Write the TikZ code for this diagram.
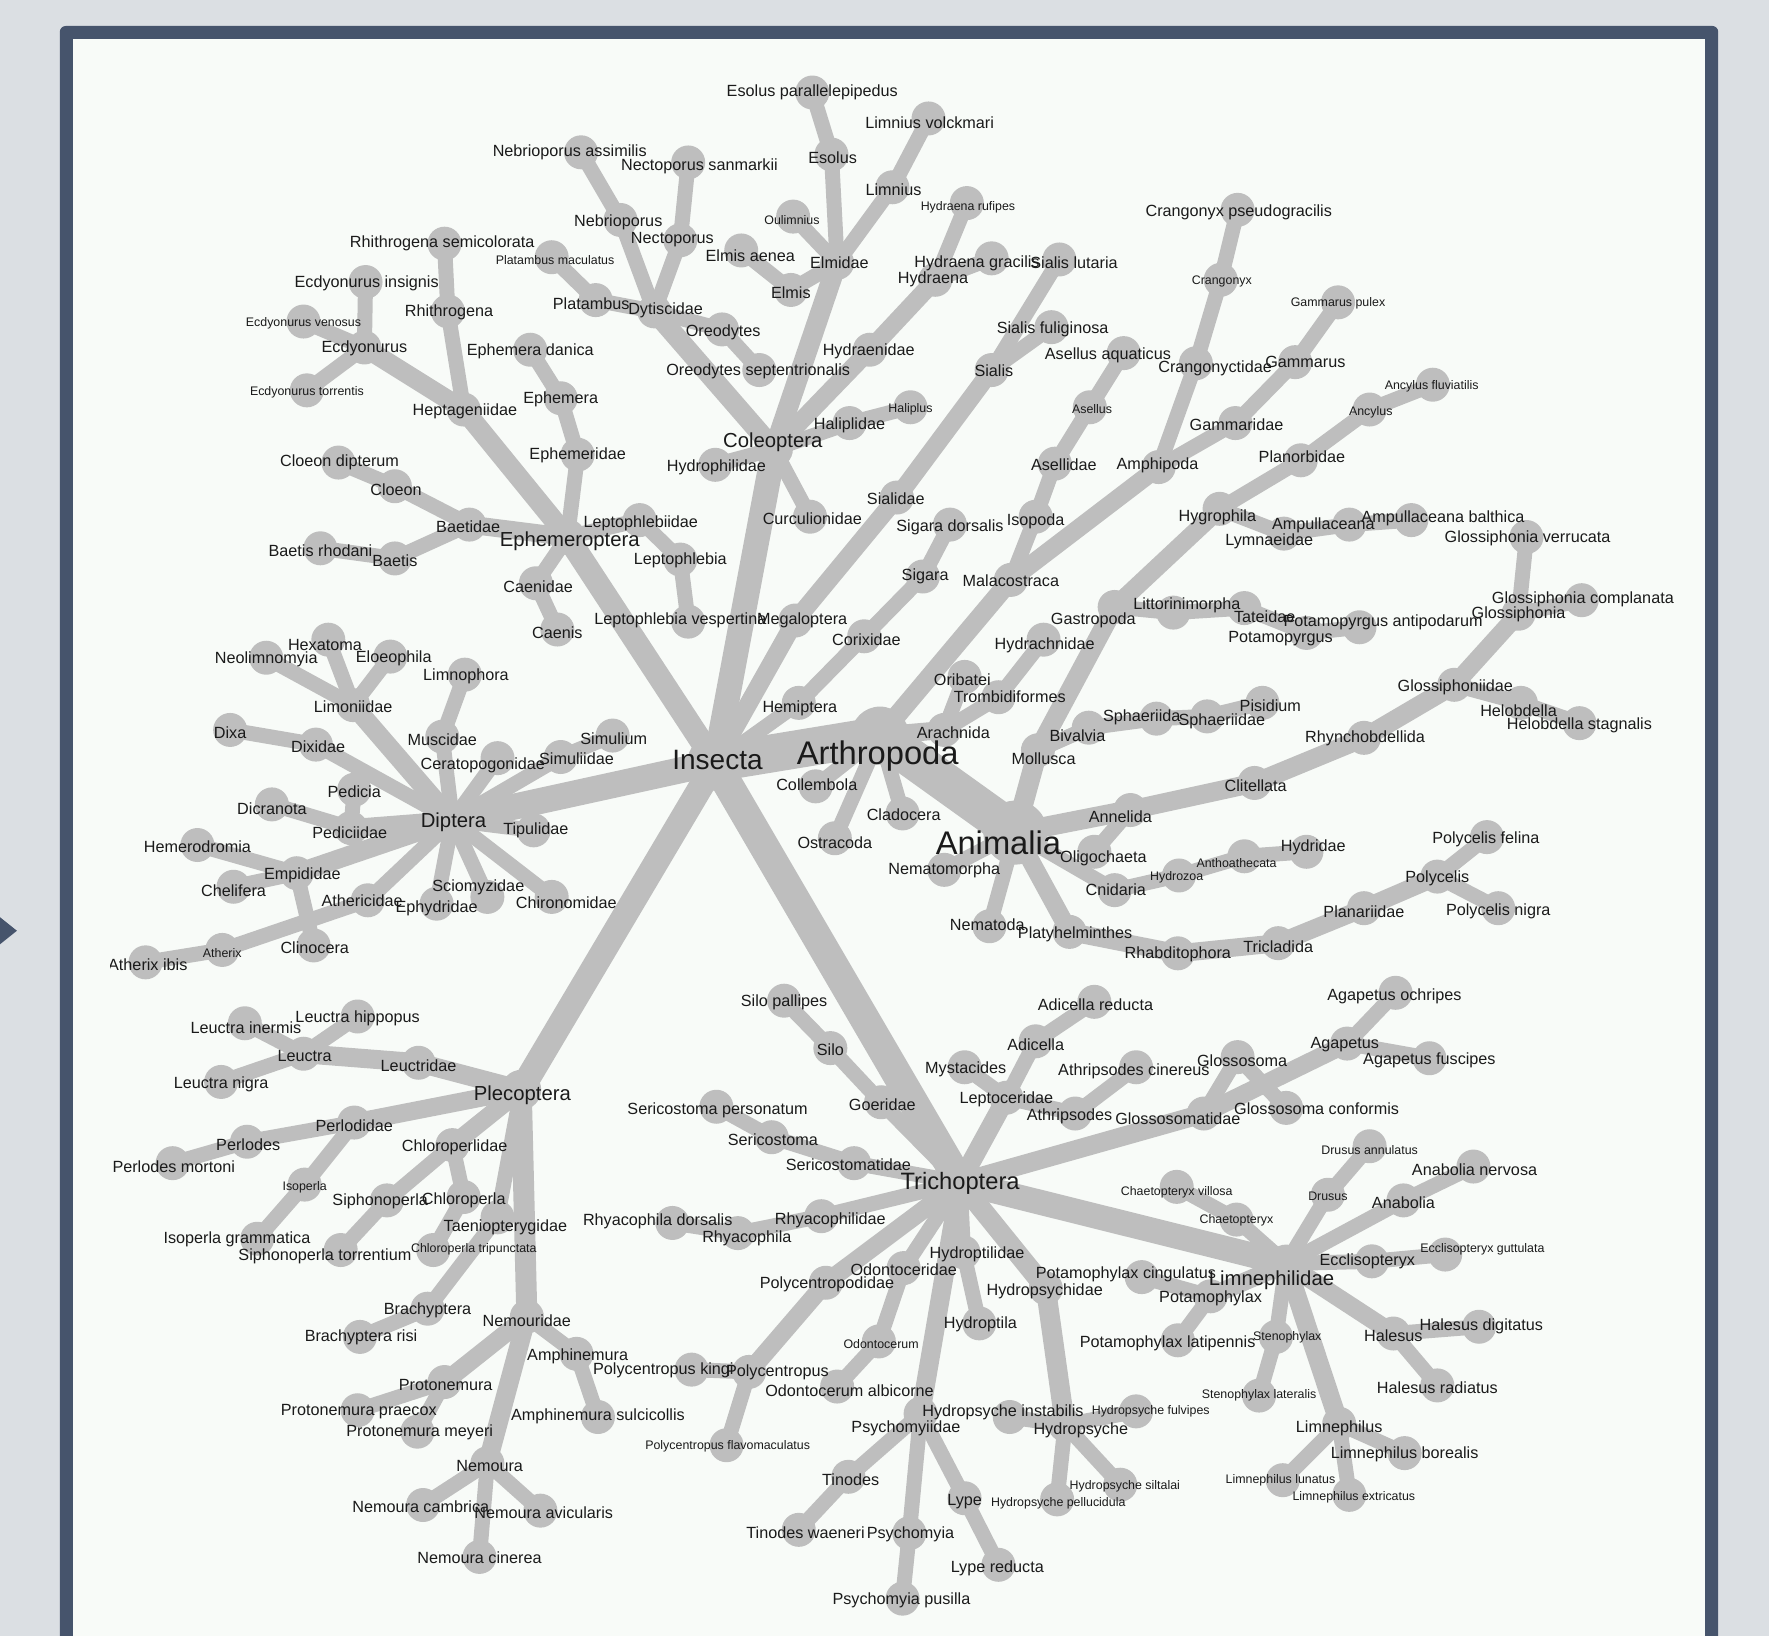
\documentclass[tikz,border=0pt]{standalone}
\usepackage{fontspec}
\setmainfont{Liberation Sans}
\definecolor{tg}{HTML}{BEBEBE}
\definecolor{txt}{HTML}{1A1A1A}
\definecolor{frm}{HTML}{46546C}
\definecolor{obg}{HTML}{DBDFE3}
\definecolor{pnl}{HTML}{F8FBF8}
\def\tyN{\fontsize{16.2}{18}\selectfont}
\def\tyS{\fontsize{12.4}{14}\selectfont}
\def\tyO{\fontsize{20.3}{22}\selectfont}
\def\tyT{\fontsize{23.7}{26}\selectfont}
\def\tyI{\fontsize{28}{30}\selectfont}
\def\tyA{\fontsize{32.7}{35}\selectfont}
\def\Nd#1#2#3{\node[dot] (#1) at (#2,#3) {};}
\def\Nb#1#2#3#4{\node[dot,minimum size=#4pt] (#1) at (#2,#3) {};}
\def\Ed#1#2#3{\draw[edge,line width=#3pt] (#1.center) -- (#2.center);}
\def\Lb#1#2#3#4#5{\node[lab,font=#1] (t#2) at (#3,#4) {#5};}
\tikzset{
  dot/.style={circle,fill=tg,draw=none,inner sep=0pt,minimum size=34pt},
  edge/.style={draw=tg},
  lab/.style={inner sep=0pt,text=txt,yshift=-2pt}
}
\begin{document}
\begin{tikzpicture}[x=1.1282pt,y=-1.1282pt]
\useasboundingbox (0,0) rectangle (1568,1450);
\clip (0,0) rectangle (1568,1450);
\fill[obg] (0,0) rectangle (1568,1450);
\fill[frm,rounded corners=6pt] (53,23) rectangle (1523,1500);
\fill[pnl] (65,35) rectangle (1511,1500);
\fill[frm] (0,813) -- (15,825) -- (0,837) -- cycle;
\begin{scope}
\clip (98,35) rectangle (1511,1450);
% ---------- dots ----------
\Nb{ani}{900}{738}{64}
\Nb{art}{780}{652}{58}
\Nb{ins}{634}{676}{56}
\Nd{coll}{723}{697}
\Nd{cla}{800}{721}
\Nd{ost}{740}{743}
\Nd{mal}{896}{514}
\Nd{iso}{918}{458}
\Nd{ase}{935}{411}
\Nd{asl}{966}{361}
\Nd{asla}{996}{313}
\Nd{amp}{1027}{414}
\Nd{cra}{1060}{322}
\Nd{crx}{1082}{248}
\Nd{crxp}{1097}{186}
\Nd{gam}{1095}{375}
\Nd{gms}{1148}{321}
\Nd{gmsp}{1186}{268}
\Nd{ara}{837}{647}
\Nd{ori}{855}{600}
\Nd{tro}{885}{618}
\Nd{hyc}{925}{567}
\Nd{mol}{920}{665}
\Nd{gas}{988}{538}
\Nd{hyg}{1081}{451}
\Nd{pla}{1153}{408}
\Nd{anc}{1214}{363}
\Nd{ancf}{1270}{341}
\Nd{lym}{1138}{473}
\Nd{amu}{1196}{465}
\Nd{amub}{1251}{461}
\Nd{lit}{1040}{543}
\Nd{tat}{1103}{539}
\Nd{pot}{1158}{561}
\Nd{pota}{1205}{556}
\Nd{biv}{965}{645}
\Nd{sph}{1025}{637}
\Nd{sphd}{1070}{635}
\Nd{pis}{1119}{623}
\Nd{anl}{1002}{718}
\Nd{oli}{970}{755}
\Nd{cli}{1112}{694}
\Nd{rhy}{1209}{654}
\Nd{glo}{1289}{607}
\Nd{gls}{1346}{544}
\Nd{glsv}{1353}{476}
\Nd{glsc}{1402}{532}
\Nd{hel}{1348}{623}
\Nd{hels}{1400}{641}
\Nd{cni}{988}{789}
\Nd{hyz}{1045}{776}
\Nd{ant}{1103}{759}
\Nd{hyi}{1158}{755}
\Nd{nmm}{837}{771}
\Nd{nem}{877}{821}
\Nd{ply}{948}{826}
\Nd{rha}{1044}{845}
\Nd{tri}{1133}{836}
\Nd{plr}{1209}{805}
\Nd{pol}{1274}{777}
\Nd{polf}{1318}{742}
\Nd{poln}{1328}{805}
% Ephemeroptera
\Nb{epm}{503}{476}{36}
\Nd{hep}{411}{363}
\Nd{ecd}{323}{308}
\Nd{ecdi}{324}{250}
\Nd{ecdv}{269}{285}
\Nd{ecdt}{272}{346}
\Nd{rhi}{397}{276}
\Nd{rhis}{394}{216}
\Nd{ephd}{512}{403}
\Nd{eph}{497}{353}
\Nd{ephdan}{470}{310}
\Nd{bae}{416}{465}
\Nd{clo}{350}{431}
\Nd{clod}{300}{410}
\Nd{bts}{350}{495}
\Nd{btsr}{284}{486}
\Nd{lep}{567}{461}
\Nd{lepb}{603}{496}
\Nd{lepv}{610}{551}
\Nd{cae}{475}{517}
\Nd{caes}{494}{558}
% Coleoptera
\Nb{col}{686}{398}{38}
\Nd{dyt}{580}{276}
\Nd{nebr}{550}{195}
\Nd{nebra}{515}{135}
\Nd{nect}{603}{213}
\Nd{necs}{610}{144}
\Nd{plat}{528}{266}
\Nd{platm}{489}{228}
\Nd{ore}{640}{292}
\Nd{ores}{673}{328}
\Nd{elm}{742}{233}
\Nd{eso}{737}{137}
\Nd{esop}{720}{82}
\Nd{lim}{791}{166}
\Nd{limv}{823}{105}
\Nd{oul}{703}{192}
\Nd{elms}{701}{257}
\Nd{elmsa}{657}{222}
\Nd{hyd}{771}{310}
\Nd{hyda}{829}{248}
\Nd{hydr}{857}{180}
\Nd{hydg}{879}{229}
\Nd{hal}{753}{375}
\Nd{halp}{807}{361}
\Nd{hydp}{634}{412}
\Nd{cur}{718}{458}
% Megaloptera / Hemiptera
\Nd{meg}{705}{550}
\Nd{sia}{795}{441}
\Nd{sis}{879}{328}
\Nd{sisl}{939}{230}
\Nd{sisf}{932}{290}
\Nd{hem}{708}{623}
\Nd{cor}{766}{564}
\Nd{sig}{818}{511}
\Nd{sigd}{842}{465}
% Diptera
\Nb{dip}{401}{727}{40}
\Nd{lmn}{313}{625}
\Nd{neo}{236}{583}
\Nd{hex}{291}{567}
\Nd{elo}{346}{582}
\Nd{mus}{392}{653}
\Nd{lph}{412}{598}
\Nd{dix}{280}{660}
\Nd{dxa}{204}{647}
\Nd{cer}{441}{672}
\Nd{sml}{497}{671}
\Nd{smu}{543}{652}
\Nd{ped}{311}{734}
\Nd{pdc}{314}{700}
\Nd{dcr}{241}{713}
\Nd{tip}{473}{736}
\Nd{emp}{263}{774}
\Nd{hmd}{175}{749}
\Nd{chf}{207}{786}
\Nd{cln}{278}{838}
\Nd{ath}{326}{798}
\Nd{atx}{197}{842}
\Nd{atxi}{129}{853}
\Nd{scm}{432}{795}
\Nd{ephy}{387}{801}
\Nd{chi}{489}{795}
% Plecoptera
\Nb{ple}{462}{966}{40}
\Nd{leu}{371}{942}
\Nd{lea}{269}{934}
\Nd{leai}{217}{907}
\Nd{leah}{317}{901}
\Nd{lean}{196}{959}
\Nd{prl}{314}{995}
\Nd{prs}{219}{1012}
\Nd{prsm}{153}{1031}
\Nd{isop}{270}{1050}
\Nd{isog}{228}{1098}
\Nd{chl}{401}{1015}
\Nd{sip}{343}{1064}
\Nd{chp}{411}{1061}
\Nd{sipt}{302}{1108}
\Nd{chpt}{384}{1108}
\Nd{tae}{441}{1079}
\Nd{bra}{379}{1160}
\Nd{brar}{319}{1185}
\Nd{nmo}{467}{1167}
\Nd{amn}{511}{1200}
\Nd{amns}{530}{1256}
\Nd{prt}{394}{1225}
\Nd{prtp}{317}{1250}
\Nd{prtm}{370}{1269}
\Nd{nmr}{432}{1297}
\Nd{nmrc}{375}{1334}
\Nd{nmra}{479}{1339}
\Nd{nmri}{425}{1380}
% Trichoptera
\Nb{tch}{851}{1048}{46}
\Nd{goe}{781}{977}
\Nd{silo}{736}{929}
\Nd{silp}{695}{887}
\Nd{lpc}{892}{973}
\Nd{mys}{855}{946}
\Nd{adi}{918}{923}
\Nd{adir}{970}{888}
\Nd{atr}{953}{987}
\Nd{atrc}{1007}{946}
\Nd{glf}{1067}{987}
\Nd{glm}{1097}{937}
\Nd{glmc}{1140}{982}
\Nd{aga}{1194}{925}
\Nd{agao}{1237}{880}
\Nd{agaf}{1267}{938}
\Nd{ser}{757}{1031}
\Nd{sers}{684}{1008}
\Nd{serp}{635}{981}
\Nd{rhf}{728}{1078}
\Nd{rhp}{654}{1093}
\Nd{rhpd}{596}{1084}
\Nd{pcd}{732}{1137}
\Nd{pcp}{664}{1216}
\Nd{pcpk}{613}{1214}
\Nd{pcpf}{644}{1281}
\Nd{odc}{801}{1124}
\Nd{odm}{779}{1189}
\Nd{odma}{742}{1229}
\Nd{hpt}{854}{1110}
\Nd{hpa}{868}{1173}
\Nd{psy}{816}{1253}
\Nd{tin}{752}{1309}
\Nd{tinw}{708}{1356}
\Nd{psm}{806}{1359}
\Nd{psmp}{800}{1417}
\Nd{lyp}{855}{1328}
\Nd{lypr}{885}{1387}
\Nd{hps}{927}{1142}
\Nd{hpy}{944}{1263}
\Nd{hpyi}{895}{1256}
\Nd{hpyf}{1007}{1251}
\Nd{hpys}{993}{1316}
\Nd{hpyp}{937}{1329}
\Nb{lmf}{1140}{1120}{38}
\Nd{pmx}{1073}{1149}
\Nd{pmxc}{1012}{1132}
\Nd{pmxl}{1044}{1188}
\Nd{stn}{1131}{1185}
\Nd{stnl}{1116}{1237}
\Nd{lmp}{1187}{1262}
\Nd{lmpb}{1245}{1288}
\Nd{lmpl}{1137}{1312}
\Nd{lmpe}{1196}{1325}
\Nd{hls}{1235}{1182}
\Nd{hlsd}{1311}{1176}
\Nd{hlsr}{1274}{1228}
\Nd{ecl}{1216}{1118}
\Nd{eclg}{1281}{1112}
\Nd{anb}{1244}{1064}
\Nd{anbn}{1306}{1034}
\Nd{dru}{1177}{1059}
\Nd{drua}{1214}{1016}
\Nd{cha}{1096}{1081}
\Nd{chav}{1043}{1052}
% ---------- edges ----------
\Ed{ani}{art}{39}\Ed{art}{ins}{38}
\Ed{ani}{mol}{20}\Ed{ani}{anl}{20}\Ed{ani}{cni}{15}\Ed{ani}{ply}{18}
\Ed{ani}{nem}{15}\Ed{ani}{nmm}{15}
\Ed{art}{coll}{15}\Ed{art}{cla}{15}\Ed{art}{ost}{15}
\Ed{art}{mal}{19}\Ed{art}{ara}{18}
\Ed{mal}{iso}{15}\Ed{iso}{ase}{15}\Ed{ase}{asl}{15}\Ed{asl}{asla}{15}
\Ed{mal}{amp}{18}\Ed{amp}{cra}{15}\Ed{cra}{crx}{15}\Ed{crx}{crxp}{15}
\Ed{amp}{gam}{15}\Ed{gam}{gms}{15}\Ed{gms}{gmsp}{15}
\Ed{ara}{ori}{15}\Ed{ara}{tro}{15}\Ed{tro}{hyc}{15}
\Ed{mol}{gas}{19}\Ed{gas}{hyg}{18}\Ed{hyg}{pla}{15}\Ed{pla}{anc}{15}\Ed{anc}{ancf}{15}
\Ed{hyg}{lym}{15}\Ed{lym}{amu}{15}\Ed{amu}{amub}{15}
\Ed{gas}{lit}{15}\Ed{lit}{tat}{15}\Ed{tat}{pot}{15}\Ed{pot}{pota}{15}
\Ed{mol}{biv}{15}\Ed{biv}{sph}{15}\Ed{sph}{sphd}{15}\Ed{sphd}{pis}{15}
\Ed{anl}{cli}{19}\Ed{cli}{rhy}{19}\Ed{rhy}{glo}{19}\Ed{glo}{gls}{18}
\Ed{gls}{glsv}{15}\Ed{gls}{glsc}{15}\Ed{glo}{hel}{15}\Ed{hel}{hels}{15}\Ed{anl}{oli}{15}
\Ed{cni}{hyz}{15}\Ed{hyz}{ant}{15}\Ed{ant}{hyi}{15}
\Ed{ply}{rha}{18}\Ed{rha}{tri}{18}\Ed{tri}{plr}{18}\Ed{plr}{pol}{18}
\Ed{pol}{polf}{15}\Ed{pol}{poln}{15}
\Ed{ins}{epm}{23}\Ed{ins}{col}{25}\Ed{ins}{meg}{18}\Ed{ins}{hem}{15}
\Ed{ins}{dip}{26}\Ed{ins}{ple}{25}\Ed{ins}{tch}{30}
% Ephemeroptera
\Ed{epm}{hep}{20}\Ed{hep}{ecd}{19}\Ed{ecd}{ecdi}{15}\Ed{ecd}{ecdv}{15}\Ed{ecd}{ecdt}{15}
\Ed{hep}{rhi}{15}\Ed{rhi}{rhis}{15}
\Ed{epm}{ephd}{15}\Ed{ephd}{eph}{15}\Ed{eph}{ephdan}{15}
\Ed{epm}{bae}{18}\Ed{bae}{clo}{15}\Ed{clo}{clod}{15}\Ed{bae}{bts}{15}\Ed{bts}{btsr}{15}
\Ed{epm}{lep}{15}\Ed{lep}{lepb}{15}\Ed{lepb}{lepv}{15}
\Ed{epm}{cae}{15}\Ed{cae}{caes}{15}
% Coleoptera
\Ed{col}{dyt}{20}\Ed{dyt}{nebr}{15}\Ed{nebr}{nebra}{15}\Ed{dyt}{nect}{15}\Ed{nect}{necs}{15}
\Ed{dyt}{plat}{15}\Ed{plat}{platm}{15}\Ed{dyt}{ore}{15}\Ed{ore}{ores}{15}
\Ed{col}{elm}{20}\Ed{elm}{eso}{15}\Ed{eso}{esop}{15}\Ed{elm}{lim}{15}\Ed{lim}{limv}{15}
\Ed{elm}{oul}{15}\Ed{elm}{elms}{15}\Ed{elms}{elmsa}{15}
\Ed{col}{hyd}{18}\Ed{hyd}{hyda}{18}\Ed{hyda}{hydr}{15}\Ed{hyda}{hydg}{15}
\Ed{col}{hal}{15}\Ed{hal}{halp}{15}\Ed{col}{hydp}{15}\Ed{col}{cur}{15}
% Megaloptera / Hemiptera
\Ed{meg}{sia}{18}\Ed{sia}{sis}{18}\Ed{sis}{sisl}{15}\Ed{sis}{sisf}{15}
\Ed{hem}{cor}{15}\Ed{cor}{sig}{15}\Ed{sig}{sigd}{15}
% Diptera
\Ed{dip}{lmn}{19}\Ed{lmn}{neo}{15}\Ed{lmn}{hex}{15}\Ed{lmn}{elo}{15}
\Ed{dip}{mus}{15}\Ed{mus}{lph}{15}\Ed{dip}{dix}{15}\Ed{dix}{dxa}{15}
\Ed{dip}{cer}{15}\Ed{dip}{sml}{15}\Ed{sml}{smu}{15}
\Ed{dip}{ped}{18}\Ed{ped}{pdc}{15}\Ed{ped}{dcr}{15}\Ed{dip}{tip}{15}
\Ed{dip}{emp}{19}\Ed{emp}{hmd}{15}\Ed{emp}{chf}{15}\Ed{emp}{cln}{15}
\Ed{dip}{ath}{15}\Ed{ath}{atx}{15}\Ed{atx}{atxi}{15}
\Ed{dip}{scm}{15}\Ed{dip}{ephy}{15}\Ed{dip}{chi}{15}
% Plecoptera
\Ed{ple}{leu}{19}\Ed{leu}{lea}{19}\Ed{lea}{leai}{15}\Ed{lea}{leah}{15}\Ed{lea}{lean}{15}
\Ed{ple}{prl}{18}\Ed{prl}{prs}{15}\Ed{prs}{prsm}{15}\Ed{prl}{isop}{15}\Ed{isop}{isog}{15}
\Ed{ple}{chl}{18}\Ed{chl}{sip}{15}\Ed{sip}{sipt}{15}\Ed{chl}{chp}{15}\Ed{chp}{chpt}{15}
\Ed{ple}{tae}{15}\Ed{tae}{bra}{15}\Ed{bra}{brar}{15}
\Ed{ple}{nmo}{21}\Ed{nmo}{amn}{15}\Ed{amn}{amns}{15}
\Ed{nmo}{prt}{18}\Ed{prt}{prtp}{15}\Ed{prt}{prtm}{15}
\Ed{nmo}{nmr}{19}\Ed{nmr}{nmrc}{15}\Ed{nmr}{nmra}{15}\Ed{nmr}{nmri}{15}
% Trichoptera
\Ed{tch}{goe}{15}\Ed{goe}{silo}{15}\Ed{silo}{silp}{15}
\Ed{tch}{lpc}{19}\Ed{lpc}{mys}{15}\Ed{lpc}{adi}{15}\Ed{adi}{adir}{15}\Ed{lpc}{atr}{15}\Ed{atr}{atrc}{15}
\Ed{tch}{glf}{19}\Ed{glf}{glm}{15}\Ed{glm}{glmc}{15}\Ed{glf}{aga}{18}\Ed{aga}{agao}{15}\Ed{aga}{agaf}{15}
\Ed{tch}{ser}{15}\Ed{ser}{sers}{15}\Ed{sers}{serp}{15}
\Ed{tch}{rhf}{15}\Ed{rhf}{rhp}{15}\Ed{rhp}{rhpd}{15}
\Ed{tch}{pcd}{18}\Ed{pcd}{pcp}{18}\Ed{pcp}{pcpk}{15}\Ed{pcp}{pcpf}{15}
\Ed{tch}{odc}{15}\Ed{odc}{odm}{15}\Ed{odm}{odma}{15}
\Ed{tch}{hpt}{15}\Ed{hpt}{hpa}{15}
\Ed{tch}{psy}{19}\Ed{psy}{tin}{15}\Ed{tin}{tinw}{15}\Ed{psy}{psm}{15}\Ed{psm}{psmp}{15}\Ed{psy}{lyp}{15}\Ed{lyp}{lypr}{15}
\Ed{tch}{hps}{20}\Ed{hps}{hpy}{20}\Ed{hpy}{hpyi}{15}\Ed{hpy}{hpyf}{15}\Ed{hpy}{hpys}{15}\Ed{hpy}{hpyp}{15}
\Ed{tch}{lmf}{25}
\Ed{lmf}{pmx}{18}\Ed{pmx}{pmxc}{15}\Ed{pmx}{pmxl}{15}
\Ed{lmf}{stn}{15}\Ed{stn}{stnl}{15}
\Ed{lmf}{lmp}{19}\Ed{lmp}{lmpb}{15}\Ed{lmp}{lmpl}{15}\Ed{lmp}{lmpe}{15}
\Ed{lmf}{hls}{18}\Ed{hls}{hlsd}{15}\Ed{hls}{hlsr}{15}
\Ed{lmf}{ecl}{15}\Ed{ecl}{eclg}{15}
\Ed{lmf}{anb}{15}\Ed{anb}{anbn}{15}
\Ed{lmf}{dru}{15}\Ed{dru}{drua}{15}
\Ed{lmf}{cha}{15}\Ed{cha}{chav}{15}
% ---------- labels ----------
\Lb{\tyA}{ani}{885}{745}{Animalia}
\Lb{\tyA}{art}{778}{668}{Arthropoda}
\Lb{\tyI}{ins}{636}{672}{Insecta}
\Lb{\tyN}{coll}{724}{694}{Collembola}
\Lb{\tyN}{cla}{801}{720}{Cladocera}
\Lb{\tyN}{ost}{740}{745}{Ostracoda}
\Lb{\tyN}{mal}{896}{513}{Malacostraca}
\Lb{\tyN}{iso}{918}{460}{Isopoda}
\Lb{\tyN}{ase}{943}{410}{Asellidae}
\Lb{\tyS}{asl}{968}{361}{Asellus}
\Lb{\tyN}{asla}{982}{313}{Asellus aquaticus}
\Lb{\tyN}{amp}{1026}{411}{Amphipoda}
\Lb{\tyN}{cra}{1077}{325}{Crangonyctidae}
\Lb{\tyS}{crx}{1083}{248}{Crangonyx}
\Lb{\tyN}{crxp}{1098}{186}{Crangonyx pseudogracilis}
\Lb{\tyN}{gam}{1096}{375}{Gammaridae}
\Lb{\tyN}{gms}{1157}{319}{Gammarus}
\Lb{\tyS}{gmsp}{1186}{267}{Gammarus pulex}
\Lb{\tyN}{ara}{845}{648}{Arachnida}
\Lb{\tyN}{ori}{853}{601}{Oribatei}
\Lb{\tyN}{tro}{895}{616}{Trombidiformes}
\Lb{\tyN}{hyc}{926}{570}{Hydrachnidae}
\Lb{\tyN}{mol}{925}{671}{Mollusca}
\Lb{\tyN}{gas}{969}{548}{Gastropoda}
\Lb{\tyN}{hyg}{1079}{457}{Hygrophila}
\Lb{\tyN}{pla}{1154}{403}{Planorbidae}
\Lb{\tyS}{anc}{1215}{364}{Ancylus}
\Lb{\tyS}{ancf}{1269}{341}{Ancylus fluviatilis}
\Lb{\tyN}{lym}{1125}{478}{Lymnaeidae}
\Lb{\tyN}{amu}{1173}{464}{Ampullaceana}
\Lb{\tyN}{amub}{1279}{458}{Ampullaceana balthica}
\Lb{\tyN}{lit}{1052}{535}{Littorinimorpha}
\Lb{\tyN}{tat}{1121}{545}{Tateidae}
\Lb{\tyN}{pot}{1135}{564}{Potamopyrgus}
\Lb{\tyN}{pota}{1226}{550}{Potamopyrgus antipodarum}
\Lb{\tyN}{biv}{955}{650}{Bivalvia}
\Lb{\tyN}{sph}{1012}{634}{Sphaeriida}
\Lb{\tyN}{sphd}{1083}{638}{Sphaeriidae}
\Lb{\tyN}{pis}{1126}{624}{Pisidium}
\Lb{\tyN}{anl}{993}{722}{Annelida}
\Lb{\tyN}{oli}{978}{759}{Oligochaeta}
\Lb{\tyN}{cli}{1113}{695}{Clitellata}
\Lb{\tyN}{rhy}{1210}{653}{Rhynchobdellida}
\Lb{\tyN}{glo}{1290}{607}{Glossiphoniidae}
\Lb{\tyN}{gls}{1346}{543}{Glossiphonia}
\Lb{\tyN}{glsv}{1354}{475}{Glossiphonia verrucata}
\Lb{\tyN}{glsc}{1403}{529}{Glossiphonia complanata}
\Lb{\tyN}{hel}{1346}{628}{Helobdella}
\Lb{\tyN}{hels}{1400}{641}{Helobdella stagnalis}
\Lb{\tyN}{cni}{989}{787}{Cnidaria}
\Lb{\tyS}{hyz}{1043}{776}{Hydrozoa}
\Lb{\tyS}{ant}{1096}{763}{Anthoathecata}
\Lb{\tyN}{hyi}{1164}{749}{Hydridae}
\Lb{\tyN}{nmm}{837}{770}{Nematomorpha}
\Lb{\tyN}{nem}{875}{818}{Nematoda}
\Lb{\tyN}{ply}{953}{826}{Platyhelminthes}
\Lb{\tyN}{rha}{1044}{844}{Rhabditophora}
\Lb{\tyN}{tri}{1133}{837}{Tricladida}
\Lb{\tyN}{plr}{1209}{806}{Planariidae}
\Lb{\tyN}{pol}{1274}{777}{Polycelis}
\Lb{\tyN}{polf}{1317}{742}{Polycelis felina}
\Lb{\tyN}{poln}{1328}{806}{Polycelis nigra}
\Lb{\tyO}{epm}{505}{478}{Ephemeroptera}
\Lb{\tyN}{hep}{412}{363}{Heptageniidae}
\Lb{\tyN}{ecd}{323}{307}{Ecdyonurus}
\Lb{\tyN}{ecdi}{325}{249}{Ecdyonurus insignis}
\Lb{\tyS}{ecdv}{269}{285}{Ecdyonurus venosus}
\Lb{\tyS}{ecdt}{272}{346}{Ecdyonurus torrentis}
\Lb{\tyN}{rhi}{398}{275}{Rhithrogena}
\Lb{\tyN}{rhis}{392}{214}{Rhithrogena semicolorata}
\Lb{\tyN}{ephd}{512}{402}{Ephemeridae}
\Lb{\tyN}{eph}{497}{352}{Ephemera}
\Lb{\tyN}{ephdan}{470}{310}{Ephemera danica}
\Lb{\tyN}{bae}{415}{465}{Baetidae}
\Lb{\tyN}{clo}{351}{432}{Cloeon}
\Lb{\tyN}{clod}{301}{408}{Cloeon dipterum}
\Lb{\tyN}{bts}{350}{495}{Baetis}
\Lb{\tyN}{btsr}{284}{486}{Baetis rhodani}
\Lb{\tyN}{lep}{568}{462}{Leptophlebiidae}
\Lb{\tyN}{lepb}{603}{495}{Leptophlebia}
\Lb{\tyN}{lepv}{603}{548}{Leptophlebia vespertina}
\Lb{\tyN}{cae}{477}{518}{Caenidae}
\Lb{\tyN}{caes}{494}{559}{Caenis}
\Lb{\tyO}{col}{685}{390}{Coleoptera}
\Lb{\tyN}{dyt}{590}{273}{Dytiscidae}
\Lb{\tyN}{nebr}{548}{195}{Nebrioporus}
\Lb{\tyN}{nebra}{505}{133}{Nebrioporus assimilis}
\Lb{\tyN}{nect}{596}{211}{Nectoporus}
\Lb{\tyN}{necs}{620}{146}{Nectoporus sanmarkii}
\Lb{\tyN}{plat}{524}{267}{Platambus}
\Lb{\tyS}{platm}{492}{229}{Platambus maculatus}
\Lb{\tyN}{ore}{641}{293}{Oreodytes}
\Lb{\tyN}{ores}{672}{327}{Oreodytes septentrionalis}
\Lb{\tyN}{elm}{744}{231}{Elmidae}
\Lb{\tyN}{eso}{738}{138}{Esolus}
\Lb{\tyN}{esop}{720}{80}{Esolus parallelepipedus}
\Lb{\tyN}{lim}{792}{166}{Limnius}
\Lb{\tyN}{limv}{824}{107}{Limnius volckmari}
\Lb{\tyS}{oul}{702}{193}{Oulimnius}
\Lb{\tyN}{elms}{701}{258}{Elmis}
\Lb{\tyN}{elmsa}{665}{225}{Elmis aenea}
\Lb{\tyN}{hyd}{770}{310}{Hydraenidae}
\Lb{\tyN}{hyda}{827}{246}{Hydraena}
\Lb{\tyS}{hydr}{858}{182}{Hydraena rufipes}
\Lb{\tyN}{hydg}{866}{232}{Hydraena gracilis}
\Lb{\tyN}{hal}{753}{375}{Haliplidae}
\Lb{\tyS}{halp}{807}{361}{Haliplus}
\Lb{\tyN}{hydp}{635}{412}{Hydrophilidae}
\Lb{\tyN}{cur}{720}{458}{Curculionidae}
\Lb{\tyN}{meg}{711}{548}{Megaloptera}
\Lb{\tyN}{sia}{794}{440}{Sialidae}
\Lb{\tyN}{sis}{881}{327}{Sialis}
\Lb{\tyN}{sisl}{952}{231}{Sialis lutaria}
\Lb{\tyN}{sisf}{933}{290}{Sialis fuliginosa}
\Lb{\tyN}{hem}{709}{626}{Hemiptera}
\Lb{\tyN}{cor}{768}{565}{Corixidae}
\Lb{\tyN}{sig}{820}{509}{Sigara}
\Lb{\tyN}{sigd}{842}{466}{Sigara dorsalis}
\Lb{\tyO}{dip}{402}{727}{Diptera}
\Lb{\tyN}{lmn}{313}{625}{Limoniidae}
\Lb{\tyN}{neo}{236}{583}{Neolimnomyia}
\Lb{\tyN}{hex}{288}{570}{Hexatoma}
\Lb{\tyN}{elo}{349}{582}{Eloeophila}
\Lb{\tyN}{mus}{392}{654}{Muscidae}
\Lb{\tyN}{lph}{413}{598}{Limnophora}
\Lb{\tyN}{dix}{282}{660}{Dixidae}
\Lb{\tyN}{dxa}{204}{648}{Dixa}
\Lb{\tyN}{cer}{428}{677}{Ceratopogonidae}
\Lb{\tyN}{sml}{511}{671}{Simuliidae}
\Lb{\tyN}{smu}{544}{653}{Simulium}
\Lb{\tyN}{ped}{310}{736}{Pediciidae}
\Lb{\tyN}{pdc}{314}{700}{Pedicia}
\Lb{\tyN}{dcr}{241}{715}{Dicranota}
\Lb{\tyN}{tip}{475}{734}{Tipulidae}
\Lb{\tyN}{emp}{268}{774}{Empididae}
\Lb{\tyN}{hmd}{175}{749}{Hemerodromia}
\Lb{\tyN}{chf}{207}{788}{Chelifera}
\Lb{\tyN}{cln}{279}{838}{Clinocera}
\Lb{\tyN}{ath}{321}{797}{Athericidae}
\Lb{\tyS}{atx}{197}{843}{Atherix}
\Lb{\tyN}{atxi}{131}{853}{Atherix ibis}
\Lb{\tyN}{scm}{424}{785}{Sciomyzidae}
\Lb{\tyN}{ephy}{387}{803}{Ephydridae}
\Lb{\tyN}{chi}{502}{798}{Chironomidae}
\Lb{\tyO}{ple}{463}{969}{Plecoptera}
\Lb{\tyN}{leu}{371}{943}{Leuctridae}
\Lb{\tyN}{lea}{270}{934}{Leuctra}
\Lb{\tyN}{leai}{218}{909}{Leuctra inermis}
\Lb{\tyN}{leah}{317}{901}{Leuctra hippopus}
\Lb{\tyN}{lean}{196}{959}{Leuctra nigra}
\Lb{\tyN}{prl}{314}{996}{Perlodidae}
\Lb{\tyN}{prs}{220}{1013}{Perlodes}
\Lb{\tyN}{prsm}{154}{1032}{Perlodes mortoni}
\Lb{\tyS}{isop}{270}{1051}{Isoperla}
\Lb{\tyN}{isog}{210}{1097}{Isoperla grammatica}
\Lb{\tyN}{chl}{403}{1015}{Chloroperlidae}
\Lb{\tyN}{sip}{337}{1063}{Siphonoperla}
\Lb{\tyN}{chp}{411}{1062}{Chloroperla}
\Lb{\tyN}{sipt}{288}{1112}{Siphonoperla torrentium}
\Lb{\tyS}{chpt}{420}{1106}{Chloroperla tripunctata}
\Lb{\tyN}{tae}{448}{1086}{Taeniopterygidae}
\Lb{\tyN}{bra}{379}{1160}{Brachyptera}
\Lb{\tyN}{brar}{320}{1184}{Brachyptera risi}
\Lb{\tyN}{nmo}{467}{1169}{Nemouridae}
\Lb{\tyN}{amn}{512}{1200}{Amphinemura}
\Lb{\tyN}{amns}{530}{1254}{Amphinemura sulcicollis}
\Lb{\tyN}{prt}{395}{1226}{Protonemura}
\Lb{\tyN}{prtp}{318}{1249}{Protonemura praecox}
\Lb{\tyN}{prtm}{372}{1268}{Protonemura meyeri}
\Lb{\tyN}{nmr}{434}{1298}{Nemoura}
\Lb{\tyN}{nmrc}{373}{1334}{Nemoura cambrica}
\Lb{\tyN}{nmra}{482}{1339}{Nemoura avicularis}
\Lb{\tyN}{nmri}{425}{1379}{Nemoura cinerea}
\Lb{\tyT}{tch}{851}{1047}{Trichoptera}
\Lb{\tyN}{goe}{782}{977}{Goeridae}
\Lb{\tyN}{silo}{736}{929}{Silo}
\Lb{\tyN}{silp}{695}{887}{Silo pallipes}
\Lb{\tyN}{lpc}{892}{973}{Leptoceridae}
\Lb{\tyN}{mys}{856}{946}{Mystacides}
\Lb{\tyN}{adi}{918}{924}{Adicella}
\Lb{\tyN}{adir}{971}{889}{Adicella reducta}
\Lb{\tyN}{atr}{948}{988}{Athripsodes}
\Lb{\tyN}{atrc}{1005}{948}{Athripsodes cinereus}
\Lb{\tyN}{glf}{1044}{990}{Glossosomatidae}
\Lb{\tyN}{glm}{1101}{938}{Glossosoma}
\Lb{\tyN}{glmc}{1167}{981}{Glossosoma conformis}
\Lb{\tyN}{aga}{1192}{924}{Agapetus}
\Lb{\tyN}{agao}{1236}{881}{Agapetus ochripes}
\Lb{\tyN}{agaf}{1267}{938}{Agapetus fuscipes}
\Lb{\tyN}{ser}{752}{1031}{Sericostomatidae}
\Lb{\tyN}{sers}{685}{1008}{Sericostoma}
\Lb{\tyN}{serp}{636}{982}{Sericostoma personatum}
\Lb{\tyN}{rhf}{736}{1080}{Rhyacophilidae}
\Lb{\tyN}{rhp}{662}{1096}{Rhyacophila}
\Lb{\tyN}{rhpd}{583}{1081}{Rhyacophila dorsalis}
\Lb{\tyN}{pcd}{733}{1137}{Polycentropodidae}
\Lb{\tyN}{pcp}{689}{1215}{Polycentropus}
\Lb{\tyN}{pcpk}{588}{1213}{Polycentropus kingi}
\Lb{\tyS}{pcpf}{645}{1280}{Polycentropus flavomaculatus}
\Lb{\tyN}{odc}{801}{1124}{Odontoceridae}
\Lb{\tyS}{odm}{781}{1190}{Odontocerum}
\Lb{\tyN}{odma}{753}{1231}{Odontocerum albicorne}
\Lb{\tyN}{hpt}{866}{1110}{Hydroptilidae}
\Lb{\tyN}{hpa}{869}{1172}{Hydroptila}
\Lb{\tyN}{psy}{803}{1264}{Psychomyiidae}
\Lb{\tyN}{tin}{754}{1310}{Tinodes}
\Lb{\tyN}{tinw}{714}{1357}{Tinodes waeneri}
\Lb{\tyN}{psm}{807}{1358}{Psychomyia}
\Lb{\tyN}{psmp}{799}{1417}{Psychomyia pusilla}
\Lb{\tyN}{lyp}{855}{1329}{Lype}
\Lb{\tyN}{lypr}{884}{1388}{Lype reducta}
\Lb{\tyN}{hps}{926}{1143}{Hydropsychidae}
\Lb{\tyN}{hpy}{958}{1266}{Hydropsyche}
\Lb{\tyN}{hpyi}{889}{1250}{Hydropsyche instabilis}
\Lb{\tyS}{hpyf}{1020}{1249}{Hydropsyche fulvipes}
\Lb{\tyS}{hpys}{997}{1316}{Hydropsyche siltalai}
\Lb{\tyS}{hpyp}{938}{1331}{Hydropsyche pellucidula}
\Lb{\tyO}{lmf}{1127}{1133}{Limnephilidae}
\Lb{\tyN}{pmx}{1073}{1149}{Potamophylax}
\Lb{\tyN}{pmxc}{998}{1128}{Potamophylax cingulatus}
\Lb{\tyN}{pmxl}{1035}{1189}{Potamophylax latipennis}
\Lb{\tyS}{stn}{1141}{1184}{Stenophylax}
\Lb{\tyS}{stnl}{1116}{1235}{Stenophylax lateralis}
\Lb{\tyN}{lmp}{1187}{1264}{Limnephilus}
\Lb{\tyN}{lmpb}{1245}{1287}{Limnephilus borealis}
\Lb{\tyS}{lmpl}{1135}{1310}{Limnephilus lunatus}
\Lb{\tyS}{lmpe}{1200}{1325}{Limnephilus extricatus}
\Lb{\tyN}{hls}{1235}{1182}{Halesus}
\Lb{\tyN}{hlsd}{1313}{1174}{Halesus digitatus}
\Lb{\tyN}{hlsr}{1274}{1228}{Halesus radiatus}
\Lb{\tyN}{ecl}{1212}{1116}{Ecclisopteryx}
\Lb{\tyS}{eclg}{1314}{1106}{Ecclisopteryx guttulata}
\Lb{\tyN}{anb}{1244}{1064}{Anabolia}
\Lb{\tyN}{anbn}{1307}{1035}{Anabolia nervosa}
\Lb{\tyS}{dru}{1177}{1059}{Drusus}
\Lb{\tyS}{drua}{1214}{1018}{Drusus annulatus}
\Lb{\tyS}{cha}{1096}{1080}{Chaetopteryx}
\Lb{\tyS}{chav}{1043}{1055}{Chaetopteryx villosa}
\end{scope}
\end{tikzpicture}
\end{document}
